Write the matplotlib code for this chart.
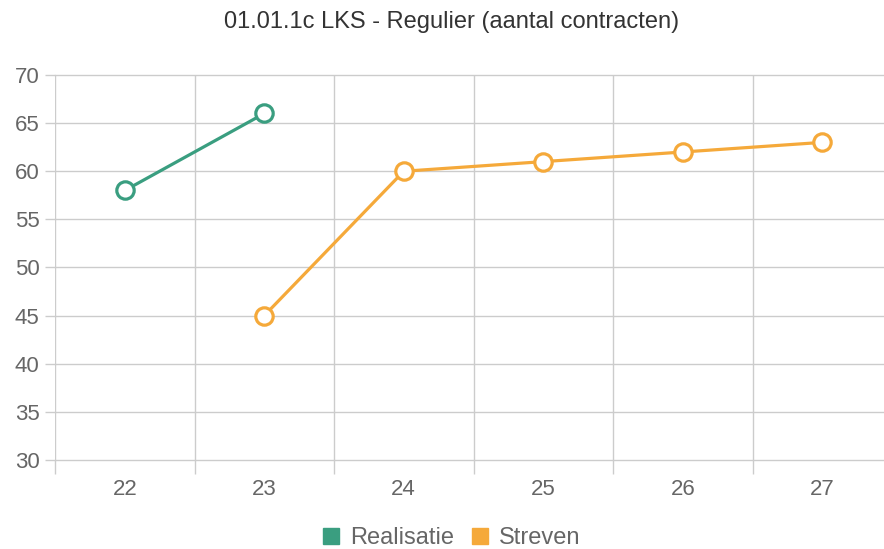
import numpy as np
import matplotlib
matplotlib.use("Agg")
import matplotlib.pyplot as plt
from matplotlib.lines import Line2D

plt.rcParams['font.family'] = ['Liberation Sans', 'DejaVu Sans']

categories = ["22", "23", "24", "25", "26", "27"]
realisatie = [58, 66, None, None, None, None]
streven = [None, 45, 60, 61, 62, 63]
yticks = [30, 35, 40, 45, 50, 55, 60, 65, 70]
title = "01.01.1c LKS - Regulier (aantal contracten)"

green = "#3a9e80"
orange = "#f5a93a"

fig = plt.figure(figsize=(8.84, 5.49), dpi=100)
ax = fig.add_axes([55/884, 1-460/549, 837/884, 385/549])

x = np.arange(len(categories))
r = np.array([np.nan if v is None else v for v in realisatie], dtype=float)
s = np.array([np.nan if v is None else v for v in streven], dtype=float)

ax.plot(x, r, color=green, lw=2.3, marker='o', ms=12.5, mfc='white', mec=green, mew=2.3, zorder=3)
ax.plot(x, s, color=orange, lw=2.3, marker='o', ms=12.5, mfc='white', mec=orange, mew=2.3, zorder=3)

ax.set_xlim(-0.5, len(categories) - 0.5)
ax.set_ylim(30, 70)
ax.set_yticks(yticks)
ax.set_xticks(x)
ax.set_xticklabels(categories)
ax.set_xticks(np.arange(-0.5, len(categories)), minor=True)

for sp in ax.spines.values():
    sp.set_visible(False)
ax.grid(False)
ax.yaxis.grid(True, color="#cccccc", lw=1)
ax.xaxis.grid(True, which='minor', color="#cccccc", lw=1)
for gl in ax.get_ygridlines():
    gl.set_clip_on(False)
ax.tick_params(axis='y', length=7, width=1, color="#cccccc", labelsize=16, labelcolor="#666666", pad=4)
ax.tick_params(axis='x', which='major', length=0, labelsize=16, labelcolor="#666666", pad=14)
ax.tick_params(axis='x', which='minor', length=10, width=1, color="#cccccc")
ax.set_axisbelow(True)

fig.text(452/884, 1-22/549, title, ha='center', va='center', fontsize=17, color="#333333")

handles = [Line2D([], [], ls='none', marker='s', ms=11, mfc=green, mec=green),
           Line2D([], [], ls='none', marker='s', ms=11, mfc=orange, mec=orange)]
fig.legend(handles, ["Realisatie", "Streven"], loc='center', bbox_to_anchor=(452/884, 1-538/549),
           ncol=2, frameon=False, fontsize=17, labelcolor="#666666",
           handlelength=0.6, handletextpad=0.5, columnspacing=0.8)

fig.savefig("out.png", dpi=100)
